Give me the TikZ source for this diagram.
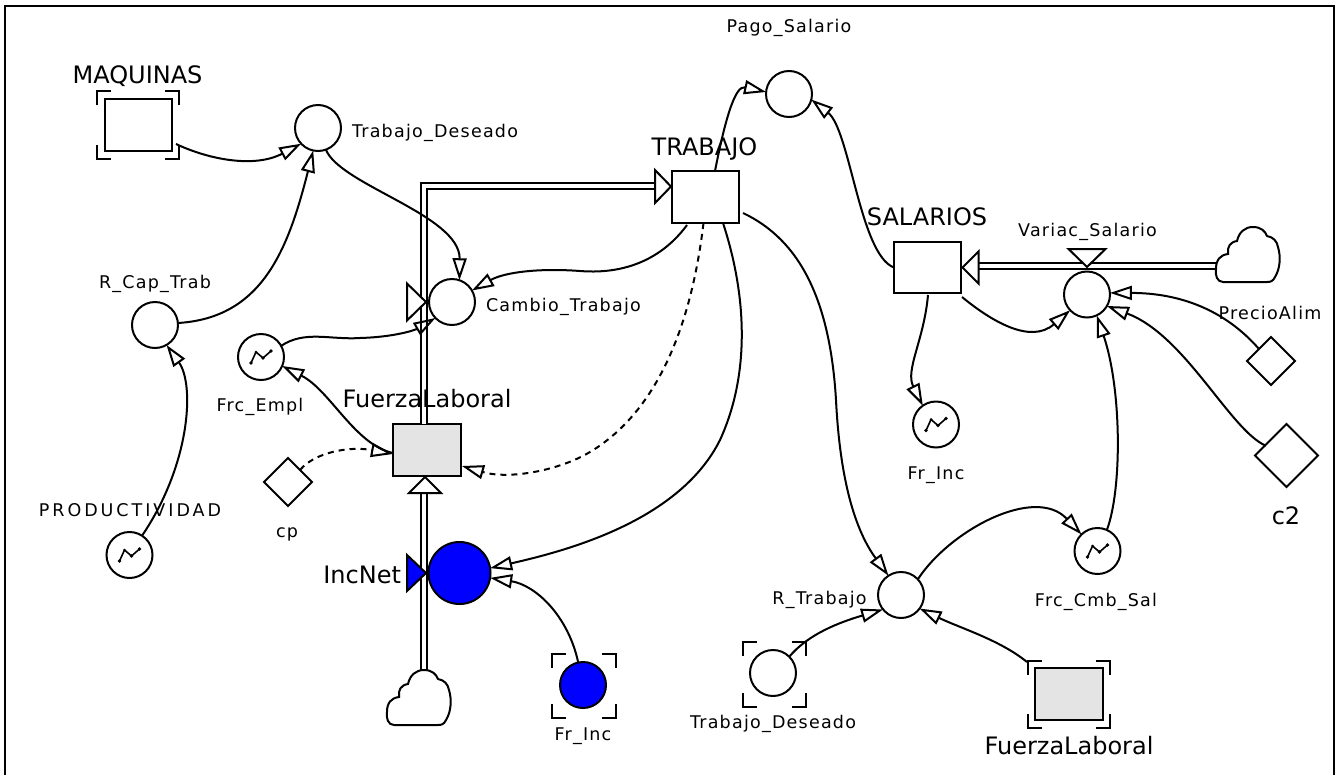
\documentclass[tikz,border=0pt]{standalone}
\usepackage{fontspec}
\setmainfont{DejaVu Sans}
\newfontfamily\labfont[LetterSpace=7]{DejaVu Sans}
\newfontfamily\labwidefont[LetterSpace=17]{DejaVu Sans}
\usetikzlibrary{arrows.meta,shapes.geometric}
\definecolor{stockgray}{RGB}{228,228,228}
\definecolor{vblue}{RGB}{0,0,255}
\newcommand{\ghostmarks}[4]{%
  \draw[ghostline] (#1,#2+14) -- (#1,#2) -- (#1+14,#2);
  \draw[ghostline] (#3-14,#2) -- (#3,#2) -- (#3,#2+14);
  \draw[ghostline] (#1,#4-14) -- (#1,#4) -- (#1+14,#4);
  \draw[ghostline] (#3-14,#4) -- (#3,#4) -- (#3,#4-14);
}
\tikzset{
  every node/.style={inner sep=0pt, outer sep=0pt},
  aux/.style={circle, draw, line width=2pt, fill=white, minimum size=46pt},
  stock/.style={rectangle, draw, line width=2pt, fill=white, minimum width=67pt, minimum height=52pt},
  conv/.style={diamond, draw, line width=2pt, fill=white, minimum size=48pt, aspect=1},
  info/.style={line width=2pt, -{Triangle[open,length=22pt,width=14pt,line width=2pt]}},
  infod/.style={info, dash pattern=on 6pt off 5pt},
  big/.style={font=\fontsize{24}{28}\selectfont},
  small/.style={font=\labfont\fontsize{17.5}{21}\selectfont},
  smallwide/.style={font=\labwidefont\fontsize{17.5}{21}\selectfont},
  pipeout/.style={line width=8.4pt, line join=miter},
  pipein/.style={white, line width=4.2pt, line join=miter},
  valve/.style={draw, line width=2pt, fill=white, line join=miter},
  ghostline/.style={line width=2.4pt},
  cloudpic/.pic={\draw[line width=2pt, fill=white] (8,55) .. controls (2,55) and (0,48) .. (1,42) .. controls (1,33) and (5,28) .. (13,27) .. controls (12,20) and (15,15) .. (22,14) .. controls (24,5) and (30,0) .. (38,0) .. controls (46,0) and (50,4) .. (52,9) .. controls (58,10) and (62,14) .. (63,20) .. controls (66,30) and (65,42) .. (60,50) .. controls (58,54) and (56,55) .. (52,55) -- cycle;},
  graphpic/.pic={\draw[line width=1.6pt, line join=round] (-10,6) -- (-5,-5) -- (2,1) -- (10,-6);
    \fill (-10,6) circle (1.9) (2,1) circle (1.9) (10,-6) circle (1.9) (-5,-5) circle (1.5);},
}
\begin{document}
\begin{tikzpicture}[x=1pt,y=-1pt]
\useasboundingbox (0,0) rectangle (1338,774);
\draw[line width=2pt] (5,780) -- (5,6) -- (1334,6) -- (1334,780);

% stocks and auxiliaries
\node[stock] (mq) at (138.5,125) {};
\node[aux] (tdA) at (318,128) {};
\node[aux] (rct) at (155,325) {};
\node[aux] (prod) at (129.5,555) {};
\node[aux] (fe) at (261,357) {};
\node[stock, fill=stockgray, minimum width=68pt] (fl) at (427,450) {};
\node[stock] (tr) at (705.5,197) {};
\node[stock, minimum height=51pt] (sal) at (927.5,267.5) {};

% pipes
\draw[pipeout] ([shift={(-3,0)}]fl.north) |- (656,186);
\draw[pipein] ([shift={(-3,0)}]fl.north) |- (656,186);
\draw[pipeout] (424,676) -- (424,493);
\draw[pipein] (424,676) -- (424,493);
\draw[pipeout] (1220,266) -- (979,266);
\draw[pipein] (1220,266) -- (979,266);
\pic at (386,670) {cloudpic};
\pic at (1215,227) {cloudpic};

% pipe arrowheads
\coordinate (trin) at ([shift={(-1,-10.5)}]tr.west);
\draw[valve] (trin) -- ++(-16,-16.5) -- ++(0,33) -- cycle;
\coordinate (flin) at ([shift={(-2,1)}]fl.south);
\draw[valve] (flin) -- ++(-16,16) -- ++(32,0) -- cycle;
\coordinate (salin) at ([shift={(1.5,0)}]sal.east);
\draw[valve] (salin) -- ++(16,-16) -- ++(0,32) -- cycle;

\node[aux] (ct) at (452,302) {};
\node[conv] (cp) at (288,482) {};
\node[aux, fill=vblue, minimum size=62pt] (inc) at (459.5,573) {};
\node[aux, fill=vblue] (frinc) at (583,685) {};
\node[aux] (ps) at (789,94) {};
\node[aux] (vs) at (1087,294.5) {};
\node[conv] (pa) at (1271,361) {};
\node[conv, minimum size=63pt] (c2) at (1286.5,455.5) {};
\node[aux] (fri) at (936,424.5) {};
\node[aux] (rt) at (901,595) {};
\node[aux] (fcs) at (1097.5,551) {};
\node[aux] (tdB) at (773,673) {};
\node[stock, fill=stockgray, minimum width=68pt] (flB) at (1069,694) {};

% valves
\draw[valve] ([shift={(-45,-18.5)}]ct.center) -- ++(0,37) -- ([shift={(-26,0)}]ct.center) -- cycle;
\draw[valve] ([shift={(-18.5,-45.5)}]vs.center) -- ++(37,0) -- ([shift={(0,-27.5)}]vs.center) -- cycle;
\draw[valve, fill=vblue] ([shift={(-52.5,-18)}]inc.center) -- ++(0,36) -- ([shift={(-33.5,0)}]inc.center) -- cycle;

% graph icons and ghost marks
\pic at (prod.center) {graphpic};
\pic at (fe.center) {graphpic};
\pic at (fri.center) {graphpic};
\pic at (fcs.center) {graphpic};
\ghostmarks{97}{91}{179}{159}
\ghostmarks{552}{654}{616}{718}
\ghostmarks{743}{642}{806}{707}
\ghostmarks{1028}{661}{1110}{728}

% connectors
\draw[info] ([shift={(4,-7)}]mq.south east) .. controls (210,160) and (255,168) .. (tdA.223);
\draw[info] (rct.5) .. controls (262,318) and (288,250) .. (tdA.258);
\draw[info] (prod.57) .. controls (190,465) and (195,385) .. (rct.300);
\draw[info] (tdA.290) .. controls (340,185) and (460,215) .. (ct.71);
\draw[info] ([shift={(15,2)}]tr.south west) .. controls (665,255) and (630,275) .. (580,271) .. controls (540,268) and (505,272) .. (ct.30);
\draw[info] (fe.29) .. controls (305,330) and (330,340) .. (360,338) .. controls (395,337) and (415,330) .. (ct.224);
\draw[info] ([shift={(0,3)}]fl.west) .. controls (355,445) and (330,390) .. (fe.337);
\draw[infod] (cp.north east) .. controls (315,452) and (350,446) .. ([shift={(0,4)}]fl.west);
\draw[infod] ([shift={(-2,0)}]tr.south) .. controls (692,320) and (660,410) .. (590,452) .. controls (560,470) and (510,480) .. ([shift={(1,16)}]fl.east);
\draw[info] ([shift={(-16,0)}]tr.south east) .. controls (745,290) and (752,370) .. (720,440) .. controls (680,520) and (570,550) .. (inc.9);
\draw[info] (frinc.102) .. controls (568,615) and (535,585) .. (inc.351);
\draw[info] ([shift={(9.5,0)}]tr.north) .. controls (725,120) and (735,85) .. (ps.175);
\draw[info] (sal.west) .. controls (860,255) and (850,130) .. (ps.346);
\draw[info] ([shift={(1,4)}]sal.south east) .. controls (990,320) and (1030,345) .. (vs.223);
\draw[info] ([shift={(0.5,2)}]sal.south) .. controls (924,340) and (905,370) .. (fri.125);
\draw[info] ([shift={(4,16)}]tr.east) .. controls (800,240) and (830,300) .. (836,400) .. controls (840,480) and (855,530) .. (rt.123);
\draw[info] (tdB.45) .. controls (805,638) and (830,625) .. (rt.219);
\draw[info] ([shift={(-8,-6)}]flB.north west) .. controls (1000,640) and (960,628) .. (rt.324);
\draw[info] (rt.43) .. controls (950,530) and (1035,485) .. (fcs.134);
\draw[info] (fcs.66) .. controls (1122,490) and (1122,390) .. (vs.295);
\draw[info] (pa.north west) .. controls (1225,310) and (1180,293) .. (vs.4);
\draw[info] ([shift={(-5,6)}]c2.north west) .. controls (1230,430) and (1185,335) .. (vs.330);

% labels
\node[big, anchor=base] (l-mq) at (137.5,83.3) {MAQUINAS};
\node[small, anchor=base west] (l-tdA) at (352,137.3) {Trabajo\_Deseado};
\node[small, anchor=base] (l-rct) at (155,288.3) {R\_Cap\_Trab};
\node[smallwide, anchor=base] (l-prod) at (130,516.7) {PRODUCTIVIDAD};
\node[small, anchor=base west] (l-ct) at (486,311.7) {Cambio\_Trabajo};
\node[small, anchor=base] (l-fe) at (260,411.7) {Frc\_Empl};
\node[big, anchor=base] (l-fl) at (427,407.7) {FuerzaLaboral};
\node[small, anchor=base] (l-cp) at (287,537.3) {cp};
\node[big, anchor=base east] (l-inc) at (401,583) {IncNet};
\node[small, anchor=base] (l-frinc) at (583,740.7) {Fr\_Inc};
\node[big, anchor=base] (l-tr) at (704.5,155.7) {TRABAJO};
\node[small, anchor=base] (l-ps) at (789,32) {Pago\_Salario};
\node[big, anchor=base] (l-sal) at (927,225) {SALARIOS};
\node[small, anchor=base] (l-vs) at (1087.5,236.7) {Variac\_Salario};
\node[small, anchor=base] (l-pa) at (1270,319.3) {PrecioAlim};
\node[big, anchor=base] (l-c2) at (1286,524) {c2};
\node[small, anchor=base] (l-fri) at (936,479) {Fr\_Inc};
\node[small, anchor=base] (l-rt) at (819.5,604) {R\_Trabajo};
\node[small, anchor=base] (l-fcs) at (1096,606) {Frc\_Cmb\_Sal};
\node[small, anchor=base] (l-tdB) at (773,728.3) {Trabajo\_Deseado};
\node[big, anchor=base] (l-flB) at (1069,754) {FuerzaLaboral};
\end{tikzpicture}
\end{document}
